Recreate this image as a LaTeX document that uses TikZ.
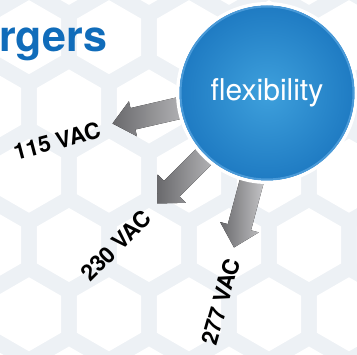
\documentclass[tikz,border=0pt]{standalone}
\usepackage{fontspec}
\setmainfont{TeX Gyre Heros}
\definecolor{hexband}{RGB}{237,241,245}
\definecolor{titleblue}{RGB}{16,108,186}
\definecolor{rimblue}{RGB}{74,154,216}
\definecolor{discin}{RGB}{62,160,220}
\definecolor{discout}{RGB}{30,122,194}
\definecolor{arrowdark}{RGB}{105,105,108}
\definecolor{arrowlight}{RGB}{218,218,220}
\begin{document}
\begin{tikzpicture}[x=1pt, y=-1pt, line join=round,
    garrow/.style={left color=arrowdark, right color=arrowlight},
    disc/.style={circle, minimum size=178.5, inner sep=0pt, draw=white, line width=3.5,
      inner color=discin, outer color=discout, text=white,
      font=\fontsize{30}{30}\selectfont},
    vac/.style={inner sep=0pt, text=black, font=\bfseries\fontsize{22.5}{22.5}\selectfont}]
    \useasboundingbox (0,0) rectangle (357,355);
    \clip (0,0) rectangle (357,355);
    % honeycomb background
    \fill[hexband] (0,0) rectangle (357,355);
    \foreach \r in {-4,...,2}
      \foreach \c in {0,...,5}{
        \pgfmathsetmacro{\hx}{-11+80*\c+40*mod(\r+4,2)}
        \pgfmathsetmacro{\hy}{245+69.28*\r}
        \fill[white, shift={(\hx,\hy)}]
          (30:37) -- (90:37) -- (150:37) -- (210:37) -- (270:37) -- (330:37) -- cycle;
      }
    \node[anchor=base west, inner sep=0pt, text=titleblue,
      font=\bfseries\fontsize{43}{43}\selectfont] (title) at (-1,52) {rgers};
    % arrow tips
    \coordinate (tip115) at (112.5,123.5);
    \coordinate (tip230) at (157,203.5);
    \coordinate (tip277) at (234,247.5);
    \begin{scope}[shift={(tip115)}, rotate=13]
      \fill[garrow] (0,0) -- (21,18) -- (21,11) -- (110,11) -- (110,-11) -- (21,-11) -- (21,-18) -- cycle;
    \end{scope}
    \begin{scope}[shift={(tip230)}, rotate=45]
      \fill[garrow] (0,0) -- (21,20) -- (21,11) -- (110,11) -- (110,-11) -- (21,-11) -- (21,-20) -- cycle;
    \end{scope}
    \begin{scope}[shift={(tip277)}, rotate=75]
      \fill[garrow] (0,0) -- (21,20) -- (21,12) -- (110,12) -- (110,-12) -- (21,-12) -- (21,-20) -- cycle;
    \end{scope}
    \node[disc] (flex) at (267,93) {flexibility};
    \draw[rimblue, line width=2] (flex.center) circle (86.5);
    \node[vac, rotate=15] (v115) at (57,141) {115 VAC};
    \node[vac, rotate=45] (v230) at (116,245.5) {230 VAC};
    \node[vac, rotate=74] (v277) at (220.5,302) {277 VAC};
\end{tikzpicture}
\end{document}
